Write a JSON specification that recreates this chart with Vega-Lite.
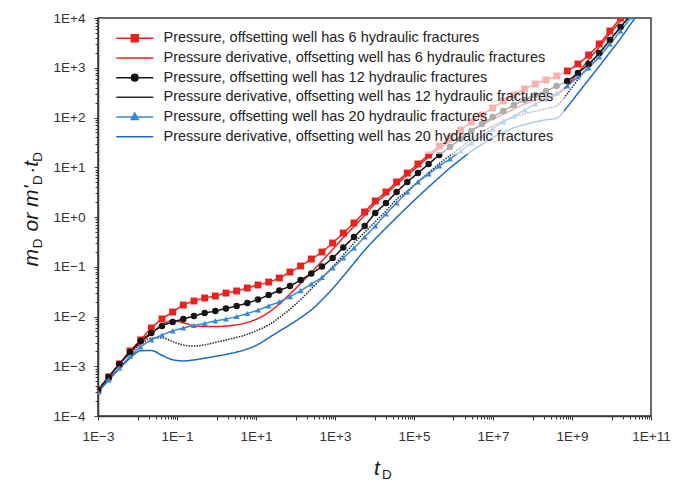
{
  "$schema": "https://vega.github.io/schema/vega-lite/v6.json",
  "width": 553,
  "height": 398,
  "autosize": {"type": "none"},
  "padding": {"left": 98, "top": 18, "right": 35, "bottom": 73},
  "background": "white",
  "config": {
    "view": {"stroke": "#3a3a3a", "strokeWidth": 1.5},
    "axis": {
      "grid": false,
      "labelFont": "Liberation Sans",
      "labelFontSize": 13.5,
      "labelColor": "#333333",
      "tickColor": "#3a3a3a",
      "tickWidth": 1,
      "domainColor": "#3a3a3a",
      "domainWidth": 1.5,
      "titleFont": "Liberation Sans",
      "titleColor": "#1a1a1a",
      "titleFontWeight": "normal"
    }
  },
  "data": {
    "values": [
      {"t": 0.001, "p6": 3.33e-4, "d6": 3.33e-4, "p12": 3.33e-4, "d12": 3.33e-4, "p20": 3.03e-4, "d20": 3.03e-4},
      {"t": 1.862e-3, "p6": 6.08e-4, "d6": 6.08e-4, "p12": 6.08e-4, "d12": 6.08e-4, "p20": 5.30e-4, "d20": 5.30e-4},
      {"t": 3.467e-3, "p6": 1.11e-3, "d6": 1.11e-3, "p12": 1.11e-3, "d12": 1.11e-3, "p20": 9.23e-4, "d20": 9.0e-4},
      {"t": 6.457e-3, "p6": 2.03e-3, "d6": 1.9e-3, "p12": 1.93e-3, "d12": 1.8e-3, "p20": 1.57e-3, "d20": 1.45e-3},
      {"t": 1.202e-2, "p6": 3.38e-3, "d6": 2.95e-3, "p12": 3.22e-3, "d12": 2.74e-3, "p20": 2.44e-3, "d20": 2.05e-3},
      {"t": 2.239e-2, "p6": 5.88e-3, "d6": 4.55e-3, "p12": 4.66e-3, "d12": 3.65e-3, "p20": 3.38e-3, "d20": 2.07e-3},
      {"t": 4.169e-2, "p6": 8.91e-3, "d6": 6.75e-3, "p12": 6.44e-3, "d12": 3.72e-3, "p20": 4.25e-3, "d20": 1.66e-3},
      {"t": 7.762e-2, "p6": 1.23e-2, "d6": 8.28e-3, "p12": 7.74e-3, "d12": 3.13e-3, "p20": 5.12e-3, "d20": 1.35e-3},
      {"t": 0.1445, "p6": 1.70e-2, "d6": 7.50e-3, "p12": 8.91e-3, "d12": 2.67e-3, "p20": 5.88e-3, "d20": 1.28e-3},
      {"t": 0.2692, "p6": 2.05e-2, "d6": 6.56e-3, "p12": 1.02e-2, "d12": 2.55e-3, "p20": 6.59e-3, "d20": 1.34e-3},
      {"t": 0.5012, "p6": 2.36e-2, "d6": 6.30e-3, "p12": 1.17e-2, "d12": 2.69e-3, "p20": 7.29e-3, "d20": 1.45e-3},
      {"t": 0.9333, "p6": 2.58e-2, "d6": 6.30e-3, "p12": 1.29e-2, "d12": 3.01e-3, "p20": 8.13e-3, "d20": 1.58e-3},
      {"t": 1.738, "p6": 2.96e-2, "d6": 6.44e-3, "p12": 1.45e-2, "d12": 3.38e-3, "p20": 8.91e-3, "d20": 1.73e-3},
      {"t": 3.236, "p6": 3.26e-2, "d6": 6.81e-3, "p12": 1.63e-2, "d12": 3.80e-3, "p20": 1.00e-2, "d20": 1.93e-3},
      {"t": 6.026, "p6": 3.74e-2, "d6": 7.60e-3, "p12": 1.87e-2, "d12": 4.38e-3, "p20": 1.15e-2, "d20": 2.22e-3},
      {"t": 11.22, "p6": 4.30e-2, "d6": 9.12e-3, "p12": 2.20e-2, "d12": 5.36e-3, "p20": 1.35e-2, "d20": 2.74e-3},
      {"t": 20.89, "p6": 4.93e-2, "d6": 1.21e-2, "p12": 2.70e-2, "d12": 6.75e-3, "p20": 1.63e-2, "d20": 3.72e-3},
      {"t": 38.90, "p6": 5.94e-2, "d6": 1.78e-2, "p12": 3.33e-2, "d12": 9.51e-3, "p20": 1.98e-2, "d20": 5.05e-3},
      {"t": 72.44, "p6": 7.83e-2, "d6": 2.83e-2, "p12": 4.10e-2, "d12": 1.40e-2, "p20": 2.50e-2, "d20": 6.84e-3},
      {"t": 134.9, "p6": 0.1035, "d6": 4.62e-2, "p12": 5.42e-2, "d12": 2.17e-2, "p20": 3.30e-2, "d20": 9.46e-3},
      {"t": 251.2, "p6": 0.143, "d6": 7.66e-2, "p12": 7.31e-2, "d12": 3.61e-2, "p20": 4.50e-2, "d20": 1.36e-2},
      {"t": 467.7, "p6": 0.198, "d6": 0.131, "p12": 0.101, "d12": 5.94e-2, "p20": 6.14e-2, "d20": 2.16e-2},
      {"t": 871.0, "p6": 0.300, "d6": 0.222, "p12": 0.150, "d12": 0.101, "p20": 9.44e-2, "d20": 3.64e-2},
      {"t": 1622, "p6": 0.476, "d6": 0.384, "p12": 0.244, "d12": 0.171, "p20": 0.150, "d20": 6.49e-2},
      {"t": 3020, "p6": 0.757, "d6": 0.644, "p12": 0.396, "d12": 0.300, "p20": 0.238, "d20": 0.118},
      {"t": 5623, "p6": 1.26, "d6": 1.08, "p12": 0.659, "d12": 0.492, "p20": 0.396, "d20": 0.214},
      {"t": 10470, "p6": 2.10, "d6": 1.87, "p12": 1.20, "d12": 0.800, "p20": 0.659, "d20": 0.365},
      {"t": 19500, "p6": 3.18, "d6": 2.85, "p12": 1.91, "d12": 1.32, "p20": 1.15, "d20": 0.601},
      {"t": 36310, "p6": 5.06, "d6": 4.55, "p12": 3.18, "d12": 2.27, "p20": 1.91, "d20": 0.982},
      {"t": 67610, "p6": 7.66, "d6": 6.9, "p12": 5.06, "d12": 3.33, "p20": 3.18, "d20": 1.59},
      {"t": 125900, "p6": 11.6, "d6": 10.5, "p12": 7.66, "d12": 5.13, "p20": 5.06, "d20": 2.54},
      {"t": 234400, "p6": 17.6, "d6": 16.0, "p12": 11.6, "d12": 7.73, "p20": 7.31, "d20": 4.01},
      {"t": 436500, "p6": 26.7, "d6": 24.0, "p12": 17.6, "d12": 11.8, "p20": 10.6, "d20": 6.25},
      {"t": 812800, "p6": 38.7, "d6": 32.2, "p12": 25.5, "d12": 17.2, "p20": 14.7, "d20": 9.66},
      {"t": 1.514e6, "p6": 56.1, "d6": 41.1, "p12": 37.0, "d12": 24.8, "p20": 21.2, "d20": 14.3},
      {"t": 2.818e6, "p6": 81.3, "d6": 54.1, "p12": 53.6, "d12": 36.1, "p20": 30.7, "d20": 21.0},
      {"t": 5.248e6, "p6": 112, "d6": 70.6, "p12": 74.0, "d12": 51.4, "p20": 42.5, "d20": 29.0},
      {"t": 9.772e6, "p6": 155, "d6": 91.6, "p12": 102, "d12": 67.5, "p20": 58.7, "d20": 39.3},
      {"t": 1.820e7, "p6": 215, "d6": 117, "p12": 135, "d12": 85.9, "p20": 81.3, "d20": 50.2},
      {"t": 3.388e7, "p6": 283, "d6": 148, "p12": 178, "d12": 102, "p20": 107, "d20": 62.1},
      {"t": 6.310e7, "p6": 374, "d6": 187, "p12": 225, "d12": 119, "p20": 142, "d20": 71.9},
      {"t": 1.175e8, "p6": 471, "d6": 220, "p12": 283, "d12": 134, "p20": 187, "d20": 81.7},
      {"t": 2.188e8, "p6": 568, "d6": 255, "p12": 341, "d12": 150, "p20": 235, "d20": 89.9},
      {"t": 4.074e8, "p6": 682, "d6": 283, "p12": 430, "d12": 173, "p20": 310, "d20": 96.8},
      {"t": 7.586e8, "p6": 861, "d6": 440, "p12": 542, "d12": 301, "p20": 430, "d20": 163},
      {"t": 1.413e9, "p6": 1189, "d6": 784, "p12": 784, "d12": 578, "p20": 652, "d20": 308},
      {"t": 2.630e9, "p6": 1803, "d6": 1452, "p12": 1189, "d12": 1074, "p20": 989, "d20": 573},
      {"t": 4.898e9, "p6": 3000, "d6": 2612, "p12": 1977, "d12": 1900, "p20": 1644, "d20": 1074},
      {"t": 9.120e9, "p6": 5480, "d6": 4875, "p12": 3614, "d12": 3565, "p20": 3000, "d20": 2046},
      {"t": 1.698e10, "p6": 10000, "d6": 8710, "p12": 6592, "d12": 6471, "p20": 5480, "d20": 3873},
      {"t": 3.162e10, "p6": 17400, "d6": 15900, "p12": 12000, "d12": 11800, "p20": 10470, "d20": 7816},
      {"t": 5.888e10, "d20": 14960}
    ]
  },
  "transform": [
    {"fold": ["p6", "d6", "p12", "d12", "p20", "d20"], "as": ["key", "v"]},
    {"filter": "isValid(datum.v)"}
  ],
  "resolve": {"axis": {"x": "independent", "y": "independent"}},
  "layer": [
    {
      "mark": {"type": "line", "interpolate": "monotone", "strokeWidth": 1.5, "clip": true},
      "encoding": {
        "x": {
          "field": "t", "type": "quantitative",
          "scale": {"type": "log", "domain": [0.001, 1e11], "nice": false},
          "axis": {
            "orient": "bottom",
            "values": [1e-3, 1e-2, 1e-1, 1, 10, 100, 1000, 1e4, 1e5, 1e6, 1e7, 1e8, 1e9, 1e10, 1e11],
            "labelExpr": "abs(round(log(datum.value)/LN10)) % 2 == 1 ? '1E' + (datum.value >= 1 ? '+' : '−') + abs(round(log(datum.value)/LN10)) : ''",
            "tickSize": 4, "labelPadding": 9, "labelFlush": false, "labelOverlap": false,
            "title": "t", "titleFontStyle": "italic", "titleFontSize": 21,
            "titleX": 275.5, "titleY": 58, "titleAlign": "left", "titleBaseline": "alphabetic", "titleAngle": 0
          }
        },
        "y": {
          "field": "v", "type": "quantitative",
          "scale": {"type": "log", "domain": [1e-4, 1e4], "nice": false},
          "axis": {
            "orient": "left",
            "values": [1e-4, 1e-3, 1e-2, 1e-1, 1, 10, 100, 1000, 1e4],
            "labelExpr": "'1E' + (datum.value >= 1 ? '+' : '−') + abs(round(log(datum.value)/LN10))",
            "tickSize": 4, "labelPadding": 9, "labelFlush": false, "labelOverlap": false,
            "title": "m\u00a0\u00a0\u00a0or m'\u00a0\u00a0·t", "titleFontStyle": "italic", "titleFontSize": 21,
            "titleX": -60.5, "titleY": 248, "titleAlign": "left", "titleBaseline": "alphabetic", "titleAngle": -90
          }
        },
        "color": {
          "field": "key", "type": "nominal",
          "scale": {
            "domain": ["p6", "d6", "p12", "d12", "p20", "d20"],
            "range": ["#e8221e", "#e8221e", "#141414", "#2a2a2a", "#3b87d4", "#1c69c2"]
          },
          "legend": {
            "orient": "none", "legendX": 7, "legendY": 3, "title": null,
            "fillColor": "rgba(255,255,255,0.65)", "padding": 10,
            "symbolSize": 144, "symbolStrokeWidth": 1.5, "labelOffset": 34, "rowPadding": 4.7,
            "labelFont": "Liberation Sans", "labelFontSize": 14.5, "labelColor": "#222222", "labelLimit": 600,
            "labelExpr": "datum.value == 'p6' ? 'Pressure, offsetting well has 6 hydraulic fractures' : datum.value == 'd6' ? 'Pressure derivative, offsetting well has 6 hydraulic fractures' : datum.value == 'p12' ? 'Pressure, offsetting well has 12 hydraulic fractures' : datum.value == 'd12' ? 'Pressure derivative, offsetting well has 12 hydraulic fractures' : datum.value == 'p20' ? 'Pressure, offsetting well has 20 hydraulic fractures' : 'Pressure derivative, offsetting well has 20 hydraulic fractures'",
            "encode": {
              "symbols": {
                "update": {
                  "shape": {"signal": "datum.value == 'p6' ? 'M-1,0H5.17M1.5,-0.58H2.66V0.58H1.5Z' : datum.value == 'p12' ? 'M-1,0H5.17M2.63,0A0.55,0.55,0,1,1,1.53,0A0.55,0.55,0,1,1,2.63,0Z' : datum.value == 'p20' ? 'M-1,0H5.17M2.08,-0.65L2.68,0.42H1.48Z' : 'M-1,0H5.17'"},
                  "fill": {"scale": "color", "field": "value"},
                  "stroke": {"scale": "color", "field": "value"},
                  "strokeWidth": {"value": 1.5},
                  "opacity": {"value": 1}
                }
              }
            }
          }
        },
        "strokeDash": {
          "condition": {"test": "datum.key == 'd12'", "value": [1.5, 1.2]},
          "value": [1, 0]
        }
      }
    },
    {
      "transform": [{"filter": "datum.key == 'p6'"}],
      "mark": {"type": "point", "filled": true, "opacity": 1, "clip": true},
      "encoding": {
        "x": {
          "field": "t", "type": "quantitative",
          "scale": {"type": "log", "domain": [0.001, 1e11], "nice": false},
          "axis": {
            "orient": "bottom",
            "values": [0.02, 0.03, 0.04, 0.05, 0.06, 0.07, 0.08, 0.09, 2, 3, 4, 5, 6, 7, 8, 9, 200, 300, 400, 500, 600, 700, 800, 900, 20000, 30000, 40000, 50000, 60000, 70000, 80000, 90000, 2e6, 3e6, 4e6, 5e6, 6e6, 7e6, 8e6, 9e6, 2e8, 3e8, 4e8, 5e8, 6e8, 7e8, 8e8, 9e8, 2e10, 3e10, 4e10, 5e10, 6e10, 7e10, 8e10, 9e10],
            "labels": false, "domain": false, "tickSize": 3,
            "title": "D", "titleFontSize": 13.5, "titleFontStyle": "normal",
            "titleX": 283.5, "titleY": 62, "titleAlign": "left", "titleBaseline": "alphabetic", "titleAngle": 0
          }
        },
        "y": {
          "field": "v", "type": "quantitative",
          "scale": {"type": "log", "domain": [1e-4, 1e4], "nice": false},
          "axis": {
            "orient": "left",
            "values": [2e-4, 3e-4, 4e-4, 5e-4, 6e-4, 7e-4, 8e-4, 9e-4, 2e-3, 3e-3, 4e-3, 5e-3, 6e-3, 7e-3, 8e-3, 9e-3, 0.02, 0.03, 0.04, 0.05, 0.06, 0.07, 0.08, 0.09, 0.2, 0.3, 0.4, 0.5, 0.6, 0.7, 0.8, 0.9, 2, 3, 4, 5, 6, 7, 8, 9, 20, 30, 40, 50, 60, 70, 80, 90, 200, 300, 400, 500, 600, 700, 800, 900, 2000, 3000, 4000, 5000, 6000, 7000, 8000, 9000],
            "labels": false, "domain": false, "tickSize": 3,
            "title": "D", "titleFontSize": 13.5, "titleFontStyle": "normal",
            "titleX": -56.5, "titleY": 229.8, "titleAlign": "left", "titleBaseline": "alphabetic", "titleAngle": -90
          }
        },
        "fill": {"field": "key", "type": "nominal", "scale": {"domain": ["p6", "p12", "p20"], "range": ["#e8221e", "#141414", "#3b87d4"]}, "legend": null},
        "shape": {"field": "key", "type": "nominal", "scale": {"domain": ["p6", "p12", "p20"], "range": ["square", "circle", "triangle-up"]}, "legend": null},
        "size": {"field": "key", "type": "nominal", "scale": {"domain": ["p6", "p12", "p20"], "range": [48, 36, 40]}, "legend": null}
      }
    },
    {
      "transform": [{"filter": "datum.key == 'p12'"}],
      "mark": {"type": "point", "filled": true, "opacity": 1, "clip": true},
      "encoding": {
        "x": {"field": "t", "type": "quantitative", "scale": {"type": "log", "domain": [0.001, 1e11], "nice": false}, "axis": null},
        "y": {
          "field": "v", "type": "quantitative",
          "scale": {"type": "log", "domain": [1e-4, 1e4], "nice": false},
          "axis": {
            "orient": "left", "labels": false, "ticks": false, "domain": false,
            "title": "D", "titleFontSize": 13.5, "titleFontStyle": "normal",
            "titleX": -56.5, "titleY": 166.4, "titleAlign": "left", "titleBaseline": "alphabetic", "titleAngle": -90
          }
        },
        "fill": {"field": "key", "type": "nominal", "scale": {"domain": ["p6", "p12", "p20"], "range": ["#e8221e", "#141414", "#3b87d4"]}, "legend": null},
        "shape": {"field": "key", "type": "nominal", "scale": {"domain": ["p6", "p12", "p20"], "range": ["square", "circle", "triangle-up"]}, "legend": null},
        "size": {"field": "key", "type": "nominal", "scale": {"domain": ["p6", "p12", "p20"], "range": [48, 36, 40]}, "legend": null}
      }
    },
    {
      "transform": [{"filter": "datum.key == 'p20'"}],
      "mark": {"type": "point", "filled": true, "opacity": 1, "clip": true},
      "encoding": {
        "x": {"field": "t", "type": "quantitative", "scale": {"type": "log", "domain": [0.001, 1e11], "nice": false}, "axis": null},
        "y": {
          "field": "v", "type": "quantitative",
          "scale": {"type": "log", "domain": [1e-4, 1e4], "nice": false},
          "axis": {
            "orient": "left", "labels": false, "ticks": false, "domain": false,
            "title": "D", "titleFontSize": 13.5, "titleFontStyle": "normal",
            "titleX": -56.5, "titleY": 143.2, "titleAlign": "left", "titleBaseline": "alphabetic", "titleAngle": -90
          }
        },
        "fill": {"field": "key", "type": "nominal", "scale": {"domain": ["p6", "p12", "p20"], "range": ["#e8221e", "#141414", "#3b87d4"]}, "legend": null},
        "shape": {"field": "key", "type": "nominal", "scale": {"domain": ["p6", "p12", "p20"], "range": ["square", "circle", "triangle-up"]}, "legend": null},
        "size": {"field": "key", "type": "nominal", "scale": {"domain": ["p6", "p12", "p20"], "range": [48, 36, 40]}, "legend": null}
      }
    }
  ]
}
